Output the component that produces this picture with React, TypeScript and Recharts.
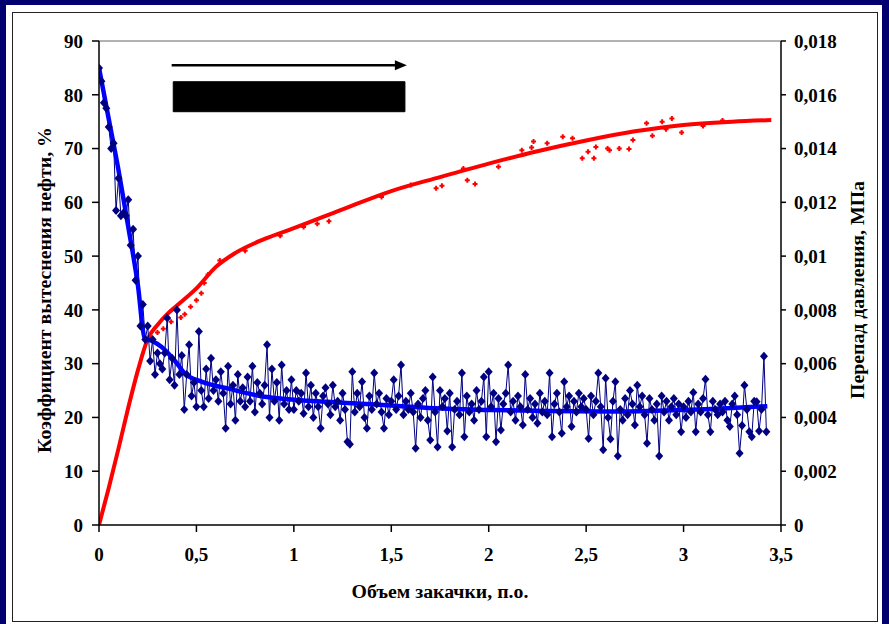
import React from 'react';
import { ComposedChart, Line, Scatter, XAxis, YAxis, ReferenceLine, ReferenceArea } from 'recharts';

// Injection volume step of the measured pressure-drop series (pore volumes)
const PRESSURE_STEP = 0.0125;

// Measured pressure drop, kPa (0.001 MPa), one value per step
const pressureMeasuredKPa = [
  17.0, 16.5, 15.7, 15.5, 14.8, 14.0, 14.2, 11.7, 12.9, 11.5, 11.6, 11.5, 12.1, 10.4, 11.0, 9.1, 10.0, 7.4, 8.2, 6.9,
  7.4, 6.1, 6.9, 5.6, 6.4, 6.0, 5.8, 6.4, 7.7, 5.4, 6.2, 5.2, 8.0, 5.6, 6.3, 4.3, 5.6, 6.7, 4.8, 5.3,
  4.4, 7.2, 5.0, 4.4, 5.8, 4.7, 6.2, 5.0, 5.4, 4.6, 5.7, 4.9, 3.6, 5.9, 4.5, 5.2, 3.9, 5.6, 4.6, 5.1,
  4.4, 5.5, 4.6, 5.9, 4.2, 5.3, 4.9, 4.5, 5.2, 6.7, 4.0, 5.8, 4.6, 5.3, 3.9, 5.95, 4.5, 5.0, 4.3, 5.4,
  4.3, 5.0, 4.6, 4.9, 4.15, 5.65, 4.4, 5.2, 4.0, 4.9, 4.4, 3.6, 4.8, 5.1, 4.5, 4.1, 5.2, 4.4, 4.6, 3.9,
  4.9, 4.3, 3.1, 3.0, 5.7, 4.2, 4.9, 4.4, 5.33, 4.0, 3.6, 4.8, 4.3, 5.65, 4.5, 4.9, 4.2, 3.6, 4.7, 4.1,
  4.6, 5.4, 4.3, 4.8, 5.95, 4.1, 4.6, 4.3, 4.9, 4.2, 2.85, 4.5, 4.0, 4.7, 5.0, 3.9, 3.16, 5.5, 4.2, 2.9,
  5.0, 4.4, 4.7, 3.5, 4.9, 2.9, 4.3, 4.6, 4.1, 5.65, 3.28, 4.8, 4.2, 4.5, 3.9, 5.0, 4.3, 4.6, 5.5, 3.28,
  5.7, 4.4, 4.9, 3.1, 4.7, 3.53, 4.5, 4.9, 5.95, 4.2, 4.6, 3.9, 4.8, 4.4, 3.72, 5.6, 4.3, 4.7, 4.0, 4.5,
  3.78, 4.9, 4.2, 4.6, 4.1, 5.65, 3.28, 4.5, 4.9, 4.2, 3.41, 5.33, 4.4, 4.8, 3.66, 4.6, 4.2, 4.9, 4.4, 4.7,
  4.3, 3.22, 4.8, 4.1, 4.6, 5.65, 4.4, 2.8, 5.46, 4.0, 3.2, 4.6, 5.33, 2.57, 4.3, 3.9, 4.7, 4.1, 5.0, 4.5,
  3.72, 5.2, 4.4, 4.8, 4.1, 3.04, 4.7, 4.3, 3.9, 4.5, 2.57, 4.8, 4.2, 4.6, 3.9, 4.4, 4.7, 4.1, 4.5, 3.47,
  4.4, 4.0, 4.6, 4.2, 4.93, 3.47, 4.5, 4.2, 4.7, 5.42, 4.1, 3.47, 4.6, 4.3, 4.1, 4.5, 4.2, 4.6, 3.9, 3.66,
  4.5, 4.8, 4.1, 2.67, 3.7, 5.2, 4.3, 3.47, 3.28, 4.6, 4.58, 3.5, 4.3, 6.28, 3.47,
];

// Fitted pressure-drop trend
const pressureTrendX = [0, 0.05, 0.1, 0.15, 0.2, 0.234, 0.27, 0.32, 0.39, 0.44, 0.526, 0.66, 0.85, 1.0, 1.25, 1.5, 1.72, 2.0, 2.3, 2.6, 2.9, 3.2, 3.43];
const pressureTrendKPa = [17.0, 15.1, 13.2, 11.1, 8.9, 6.95, 6.85, 6.63, 6.1, 5.64, 5.33, 5.08, 4.77, 4.66, 4.55, 4.44, 4.34, 4.28, 4.24, 4.22, 4.26, 4.33, 4.42];

// Oil displacement coefficient, %
const recoveryX = [0, 0.05, 0.1, 0.15, 0.2, 0.25, 0.3, 0.35, 0.4, 0.5, 0.6, 0.7, 0.85, 1.0, 1.25, 1.5, 1.75, 2.0, 2.25, 2.5, 2.75, 3.0, 3.25, 3.45];
const recoveryPct = [0, 6.9, 14.2, 21.8, 28.8, 34.6, 37.2, 39.2, 40.8, 44.0, 48.0, 50.6, 53.2, 55.2, 58.7, 62.1, 64.7, 67.2, 69.5, 71.5, 73.2, 74.4, 75.0, 75.3];

// Scattered displacement measurements off the main trend
const recoveryScatterX = [0.30, 0.33, 0.37, 0.42, 0.44, 0.47, 0.5, 0.525, 0.54, 0.56, 0.62, 0.75, 0.93, 1.05, 1.12, 1.18, 1.45, 1.6, 1.73, 1.76, 1.87, 1.89, 1.93, 2.05, 2.17, 2.22, 2.23, 2.3, 2.38, 2.43, 2.48, 2.51, 2.54, 2.55, 2.61, 2.62, 2.67, 2.72, 2.74, 2.81, 2.84, 2.89, 2.91, 2.94, 2.99, 3.1, 3.2];
const recoveryScatterPct = [35.8, 36.5, 37.8, 38.6, 39.2, 40.6, 41.8, 43.1, 45.0, 46.6, 49.2, 51.0, 53.8, 55.4, 56.0, 56.5, 61.0, 63.2, 62.6, 63.1, 66.3, 64.1, 63.4, 66.6, 69.7, 70.2, 71.3, 71.0, 72.2, 71.9, 68.2, 69.4, 68.2, 70.3, 70.0, 69.7, 70.0, 69.9, 71.6, 74.7, 72.4, 75.0, 73.6, 75.6, 73.0, 74.2, 75.2];

const xTicks = [0, 0.5, 1, 1.5, 2, 2.5, 3, 3.5];
const leftTicks = [0, 10, 20, 30, 40, 50, 60, 70, 80, 90];
const rightTicks = [0, 0.002, 0.004, 0.006, 0.008, 0.01, 0.012, 0.014, 0.016, 0.018];

const arrowX = [0.373, 1.58];
const arrowY = 85.5;
const barX = [0.381, 1.57];
const barY = [76.85, 82.43];

const measuredRows = pressureMeasuredKPa.map((v, i) => ({ x: i * PRESSURE_STEP, p: v / 1000 }));
const trendRows = pressureTrendX.map((x, i) => ({ x, p: pressureTrendKPa[i] / 1000 }));
const recoveryRows = recoveryX.map((x, i) => ({ x, r: recoveryPct[i] }));
const scatterRows = recoveryScatterX.map((x, i) => ({ x, r: recoveryScatterPct[i] }));

const FONT = '"Liberation Serif", "Times New Roman", serif';
const NAVY = '#000080';

const fmt = (v: number) => String(Number(v.toFixed(4))).replace('.', ',');

const Diamond = (props: any) => {
  const { cx, cy, index } = props;
  if (cx == null || cy == null) return <g key={`dm-${index}`} />;
  return (
    <path
      key={`dm-${index}`}
      d={`M${cx},${cy - 4.5}L${cx + 4},${cy}L${cx},${cy + 4.5}L${cx - 4},${cy}Z`}
      fill={NAVY}
    />
  );
};

const Cross = (props: any) => {
  const { cx, cy } = props;
  if (cx == null || cy == null) return <g />;
  return (
    <path
      d={`M${cx - 2.5},${cy}H${cx + 2.5}M${cx},${cy - 2.5}V${cy + 2.5}`}
      stroke="#ff0000"
      strokeWidth={2}
    />
  );
};

const ArrowShape = (props: any) => {
  const { x1, y1, x2 } = props;
  if (x1 == null) return <g />;
  return (
    <g>
      <line x1={x1} y1={y1} x2={x2 - 8} y2={y1} stroke="#000" strokeWidth={2.5} />
      <polygon points={`${x2},${y1} ${x2 - 12},${y1 - 5} ${x2 - 12},${y1 + 5}`} fill="#000" />
    </g>
  );
};

const tickStyle = { fontFamily: FONT, fontSize: 19, fontWeight: 700, fill: '#000' };

const titleStyle: React.CSSProperties = {
  position: 'absolute',
  whiteSpace: 'nowrap',
  fontFamily: FONT,
  fontWeight: 700,
  fontSize: 18,
  color: '#000',
};

export default function App() {
  return (
    <div style={{ position: 'absolute', left: 0, top: 0, width: 889, height: 624, background: '#00006e', overflow: 'hidden' }}>
      <div style={{ position: 'absolute', left: 6, top: 5, width: 876, height: 619, background: '#fff' }} />
      <div style={{ position: 'absolute', left: 12, top: 12, width: 864, height: 608, border: '1px solid #222' }} />
      <div style={{ position: 'absolute', left: 0, top: 0 }}>
        <ComposedChart width={889} height={624} margin={{ top: 41, right: 38, bottom: 59, left: 39 }}>
          <XAxis
            dataKey="x"
            type="number"
            domain={[0, 3.5]}
            ticks={xTicks}
            allowDataOverflow
            tickFormatter={fmt}
            tick={tickStyle}
            tickSize={7}
            tickMargin={16}
            height={40}
            stroke="#000"
            strokeWidth={1.5}
          />
          <YAxis
            yAxisId="left"
            type="number"
            domain={[0, 90]}
            ticks={leftTicks}
            allowDataOverflow
            tick={tickStyle}
            tickSize={7}
            tickMargin={9}
            width={60}
            stroke="#000"
            strokeWidth={1.5}
          />
          <YAxis
            yAxisId="right"
            orientation="right"
            type="number"
            domain={[0, 0.018]}
            ticks={rightTicks}
            allowDataOverflow
            tickFormatter={fmt}
            tick={tickStyle}
            tickSize={5}
            tickMargin={8}
            width={70}
            stroke="#000"
            strokeWidth={1.5}
          />
          <ReferenceLine yAxisId="left" y={90} stroke="#999" strokeWidth={1.5} />
          <ReferenceArea yAxisId="left" x1={barX[0]} x2={barX[1]} y1={barY[0]} y2={barY[1]} fill="#000" fillOpacity={1} stroke="#000" />
          <ReferenceLine
            yAxisId="left"
            segment={[{ x: arrowX[0], y: arrowY }, { x: arrowX[1], y: arrowY }]}
            shape={ArrowShape}
          />
          <Line
            yAxisId="left"
            data={recoveryRows}
            dataKey="r"
            type="monotone"
            stroke="#ff0000"
            strokeWidth={4}
            dot={false}
            isAnimationActive={false}
          />
          <Scatter yAxisId="left" data={scatterRows} dataKey="r" shape={Cross} isAnimationActive={false} />
          <Line
            yAxisId="right"
            data={measuredRows}
            dataKey="p"
            type="linear"
            stroke={NAVY}
            strokeWidth={1}
            dot={Diamond}
            isAnimationActive={false}
          />
          <Line
            yAxisId="right"
            data={trendRows}
            dataKey="p"
            type="monotone"
            stroke="#0000ff"
            strokeWidth={4.5}
            dot={false}
            isAnimationActive={false}
          />
        </ComposedChart>
      </div>
      <div style={{ ...titleStyle, left: 45, top: 290, transform: 'translate(-50%, -50%) rotate(-90deg) scaleX(1.1)' }}>
        Коэффициент вытеснения нефти, %
      </div>
      <div style={{ ...titleStyle, left: 858, top: 290, transform: 'translate(-50%, -50%) rotate(-90deg) scaleX(1.1)' }}>
        Перепад давления, МПа
      </div>
      <div style={{ ...titleStyle, left: 440, top: 592, transform: 'translate(-50%, -50%) scaleX(1.1)' }}>
        Объем закачки, п.о.
      </div>
    </div>
  );
}
